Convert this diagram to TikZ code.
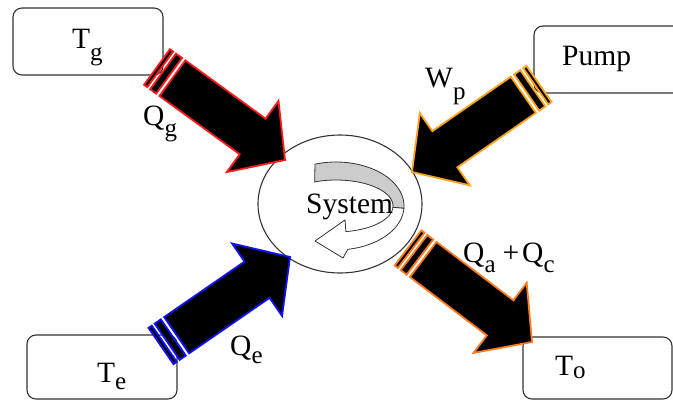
\documentclass[tikz,border=0pt]{standalone}
\usepackage{fontspec}
\setmainfont{Liberation Serif}
\usetikzlibrary{shapes.geometric}
\definecolor{cred}{HTML}{FF1A1A}
\definecolor{cpump}{HTML}{FFA31A}
\definecolor{cout}{HTML}{FF7A1F}
\definecolor{cblue}{HTML}{1010FF}
\definecolor{cline}{HTML}{333333}
\newcommand\lowsub[2]{\raisebox{-#1pt}{\fontsize{25}{27}\selectfont #2}}
\newcommand\StripeArrow[5]{%
  \pgfmathsetmacro\saDx{#3-#1}%
  \pgfmathsetmacro\saDy{#4-#2}%
  \pgfmathsetmacro\saAng{atan2(-\saDy,\saDx)}%
  \pgfmathsetmacro\saLen{veclen(\saDx,\saDy)}%
  \pgfmathsetmacro\saHb{\saLen-40}%
  \begin{scope}[shift={(#1,#2)}, rotate=\saAng, draw=#5, fill=black, line width=1.8pt, line join=miter]
    \filldraw (0,-22) rectangle (4,22);
    \filldraw (7.5,-22) rectangle (15,22);
    \filldraw (19,-22) -- (\saHb,-22) -- (\saHb,-44) -- (\saLen,0) -- (\saHb,44) -- (\saHb,22) -- (19,22) -- cycle;
  \end{scope}}
\tikzset{
  box/.style={draw=cline, line width=1.1pt, rounded corners=9pt, inner sep=0pt},
  lbl/.style={anchor=base west, inner sep=0pt, font=\fontsize{29.5}{32}\selectfont},
}
\begin{document}
\begin{tikzpicture}[x=1pt, y=-1pt]
\useasboundingbox (0,0) rectangle (673,400);
\clip (0,0) rectangle (673,400);
\fill[white] (0,0) rectangle (673,400);
% boxes
\node[box, minimum width=150pt, minimum height=67pt] (tg) at (88,41.5) {};
\node[box, minimum width=160pt, minimum height=67pt] (pump) at (614,59.5) {};
\node[box, minimum width=150pt, minimum height=64pt] (te) at (102,367) {};
\node[box, minimum width=149pt, minimum height=62pt] (to) at (597.5,368) {};
% system ellipse
\node[draw=cline, line width=1.1pt, ellipse, minimum width=164pt, minimum height=138pt, inner sep=0pt] (sys) at (340,204) {};
% circular arrow inside
\draw[cline, fill=gray!40, line width=0.8pt]
  plot[domain=-108:3, samples=40] ({336+68*cos(\x)},{206+44*sin(\x)})
  -- plot[domain=3:-112, samples=40] ({336+57*cos(\x)},{206+26*sin(\x)}) -- cycle;
\draw[cline, fill=white, line width=0.8pt, line join=miter]
  plot[domain=3:80, samples=30] ({336+68*cos(\x)},{206+44*sin(\x)})
  -- (343,258) -- (315,241) -- (345,220)
  -- plot[domain=80:3, samples=30] ({336+57*cos(\x)},{206+26*sin(\x)}) -- cycle;
\node[lbl] (systxt) at (306,213) {System};
% striped block arrows
\StripeArrow{157}{67}{285}{160}{cred}
\StripeArrow{539}{84}{412}{172}{cpump}
\StripeArrow{161}{346}{290}{257}{cblue}
\StripeArrow{408}{248}{532}{342}{cout}
% labels
\node[lbl] (ltg) at (72,48) {T\lowsub{12}{g}};
\node[lbl] (lqg) at (143,125) {Q\lowsub{11}{g}};
\node[lbl] (lwp) at (425,87) {W\lowsub{12}{p}};
\node[lbl] (lpump) at (562,65) {Pump};
\node[lbl] (lqe) at (230,355) {Q\lowsub{8}{e}};
\node[lbl] (lte) at (97,382) {T\lowsub{7}{e}};
\node[lbl] (lqac) at (463,262) {Q\lowsub{10}{a}\hspace{7pt}+\hspace{3pt}Q\lowsub{10}{c}};
\node[lbl] (lto) at (555,375) {T\lowsub{3}{o}};
\end{tikzpicture}
\end{document}
